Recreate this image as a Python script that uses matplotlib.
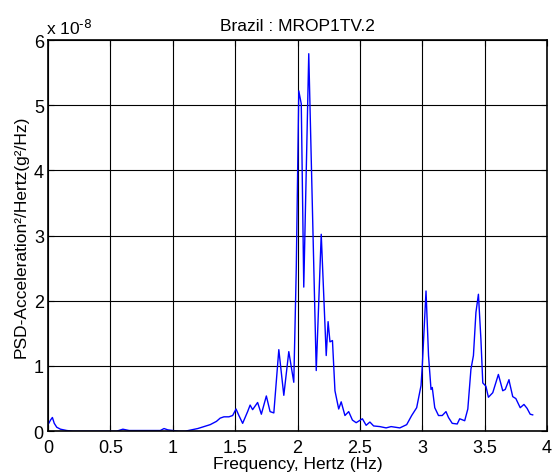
import numpy as np
import matplotlib
matplotlib.use("Agg")
import matplotlib.pyplot as plt

plt.rcParams['font.family'] = ['Liberation Sans', 'DejaVu Sans']
plt.rcParams['mathtext.default'] = 'regular'

# frequency in Hz, PSD in units of 1e-8 g^2/Hz
freq = [0.0, 0.02, 0.035, 0.05, 0.07, 0.1, 0.15, 0.2, 0.3, 0.4, 0.5, 0.55,
        0.6, 0.65, 0.75, 0.85, 0.9, 0.93, 0.96, 1.0, 1.05, 1.1, 1.15, 1.2,
        1.25, 1.3, 1.35, 1.38, 1.41, 1.45, 1.48, 1.507, 1.53, 1.56, 1.6, 1.62,
        1.64, 1.68, 1.71, 1.75, 1.78, 1.81, 1.85, 1.89, 1.93, 1.97, 1.99, 2.01,
        2.03, 2.05, 2.09, 2.15, 2.19, 2.23, 2.245, 2.26, 2.28, 2.30, 2.33, 2.35,
        2.38, 2.41, 2.44, 2.47, 2.52, 2.55, 2.58, 2.61, 2.66, 2.71, 2.75, 2.82,
        2.875, 2.915, 2.955, 2.99, 3.0, 3.03, 3.05, 3.07, 3.08, 3.10, 3.13, 3.16,
        3.19, 3.21, 3.24, 3.28, 3.30, 3.34, 3.365, 3.39, 3.41, 3.43, 3.45, 3.47,
        3.485, 3.51, 3.53, 3.565, 3.61, 3.645, 3.665, 3.695, 3.70, 3.725, 3.75,
        3.785, 3.815, 3.84, 3.865, 3.885]
psd = [0.1, 0.17, 0.21, 0.12, 0.06, 0.03, 0.01, 0.0, 0.0, 0.0, 0.0, 0.0,
       0.03, 0.01, 0.01, 0.01, 0.01, 0.04, 0.02, 0.01, 0.0, 0.0, 0.02, 0.04,
       0.07, 0.1, 0.15, 0.2, 0.22, 0.22, 0.24, 0.34, 0.24, 0.12, 0.3, 0.4,
       0.33, 0.44, 0.26, 0.54, 0.3, 0.28, 1.25, 0.55, 1.22, 0.75, 2.5, 5.22,
       5.02, 2.21, 5.79, 0.93, 3.02, 1.16, 1.68, 1.37, 1.39, 0.62, 0.34, 0.45,
       0.24, 0.3, 0.17, 0.13, 0.19, 0.09, 0.14, 0.08, 0.07, 0.05, 0.07, 0.05,
       0.1, 0.24, 0.36, 0.7, 1.0, 2.15, 1.16, 0.64, 0.67, 0.36, 0.24, 0.24,
       0.3, 0.21, 0.12, 0.11, 0.19, 0.16, 0.34, 0.95, 1.16, 1.82, 2.1, 1.41,
       0.74, 0.69, 0.52, 0.59, 0.87, 0.62, 0.64, 0.79, 0.74, 0.53, 0.5,
       0.36, 0.41, 0.35, 0.26, 0.25]

fig = plt.figure(figsize=(5.52, 4.77), dpi=100)
ax = fig.add_axes([0.087, 0.094, 0.904, 0.82])
ax.plot(freq, psd, color='blue', lw=1)
ax.set_xlim(0, 4)
ax.set_ylim(0, 6)
ax.set_xticks([0, 0.5, 1, 1.5, 2, 2.5, 3, 3.5, 4])
ax.set_xticklabels(['0', '0.5', '1', '1.5', '2', '2.5', '3', '3.5', '4'])
ax.set_yticks([0, 1, 2, 3, 4, 5, 6])
ax.grid(True, color='black', lw=0.8, ls='-')
ax.tick_params(direction='in', top=True, right=True, labelsize=13, length=4)
ax.tick_params(axis='x', pad=6)
ax.tick_params(axis='y', pad=3)
ax.set_xlabel('Frequency, Hertz (Hz)', fontsize=12.5, labelpad=0)
ax.set_ylabel('PSD-Acceleration\u00b2/Hertz(g\u00b2/Hz)', fontsize=12.5, labelpad=4)
ax.set_title('Brazil : MROP1TV.2', fontsize=12.5, pad=7)
ax.text(-0.004, 1.008, 'x 10$^{\\text{-8}}$', transform=ax.transAxes, fontsize=12.5, ha='left', va='bottom')
for s in ax.spines.values():
    s.set_linewidth(1.2)

fig.savefig('out.png', dpi=100)
